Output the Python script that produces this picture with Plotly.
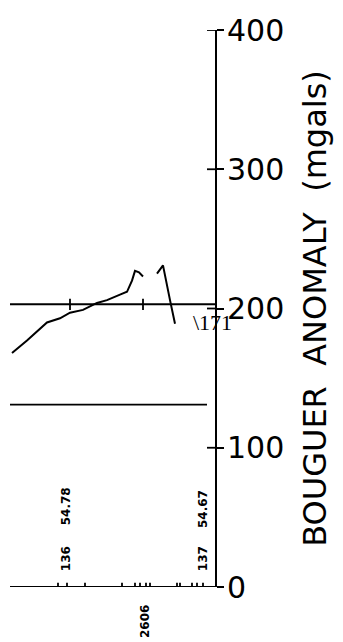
import plotly.graph_objects as go

# distance along profile (arbitrary units) and Bouguer anomaly (mgals)
profile_a_x = [12, 27, 47, 60, 70, 83, 97, 107, 120, 127, 132, 135, 139, 143]
profile_a_y = [168, 177, 190, 193, 197, 199, 204, 206, 210, 212, 220, 227, 226, 223]
profile_b_x = [157, 163, 170, 175]
profile_b_y = [225, 231, 206, 189]

ref_line_x = [10, 215]
ref_line_y = [203, 203]
ref_ticks_x = [70, 143]

low_line_x = [10, 207]
low_line_y = [131, 131]

base_x = [10, 215]
base_ticks_x = [58, 67, 85, 122, 135, 140, 146, 150, 177, 180, 192, 197, 203]
long_tick_x = 146

y_ticks = [0, 100, 200, 300, 400]
y_tick_labels = ["0", "100", "200", "300", "400"]

station_text = ["136", "54.78", "137", "54.67"]
station_x = [66, 66, 203, 203]
station_y = [20, 58, 20, 56]
line_label = "2606"
line_label_x = 145

fig = go.Figure()
line = dict(color="black", width=2)

fig.add_trace(go.Scatter(x=profile_a_x, y=profile_a_y, mode="lines", line=line))
fig.add_trace(go.Scatter(x=profile_b_x, y=profile_b_y, mode="lines", line=line))
fig.add_trace(go.Scatter(x=ref_line_x, y=ref_line_y, mode="lines", line=line))
fig.add_trace(go.Scatter(x=low_line_x, y=low_line_y, mode="lines", line=dict(color="black", width=1.8)))
fig.add_trace(go.Scatter(x=base_x, y=[0, 0], mode="lines", line=line))

# small tick marks
tx, ty = [], []
for x in ref_ticks_x:
    tx += [x, x, None]
    ty += [199, 207, None]
for x in base_ticks_x:
    tx += [x, x, None]
    ty += [(-7 if x == long_tick_x else -3), 3, None]
# left halves of y-axis ticks
for v in y_ticks:
    tx += [207, 215, None]
    ty += [v, v, None]
fig.add_trace(go.Scatter(x=tx, y=ty, mode="lines", line=dict(color="black", width=1.8)))

annotations = []
for t, x, yv in zip(station_text, station_x, station_y):
    annotations.append(dict(x=x, y=yv, text=t, showarrow=False, textangle=-90,
                            font=dict(family="DejaVu Sans", size=12, color="black", weight="bold")))
annotations.append(dict(x=line_label_x, y=0, yshift=-35, text=line_label, showarrow=False,
                        textangle=-90,
                        font=dict(family="DejaVu Sans", size=12, color="black", weight="bold")))
annotations.append(dict(x=212, y=190, text="\\171", showarrow=False,
                        font=dict(family="Liberation Serif", size=22, color="black")))
fig.update_layout(annotations=annotations)

fig.update_layout(
    width=343, height=642,
    margin=dict(l=0, r=136, t=22, b=63),
    plot_bgcolor="white", paper_bgcolor="white",
    showlegend=False,
    xaxis=dict(range=[8, 215], visible=False),
    yaxis=dict(
        range=[0, 400], side="right", showline=True, linecolor="black", linewidth=2,
        showgrid=False, zeroline=False,
        tickmode="array", tickvals=y_ticks, ticktext=y_tick_labels,
        ticks="outside", ticklen=7, tickwidth=1.8, tickcolor="black",
        ticklabelstandoff=-3,
        tickfont=dict(family="DejaVu Sans", size=30, color="black"),
        title=dict(text="BOUGUER  ANOMALY  (mgals)", standoff=20,
                   font=dict(family="DejaVu Sans", size=32, color="black")),
    ),
)

fig.write_html("out.html")
